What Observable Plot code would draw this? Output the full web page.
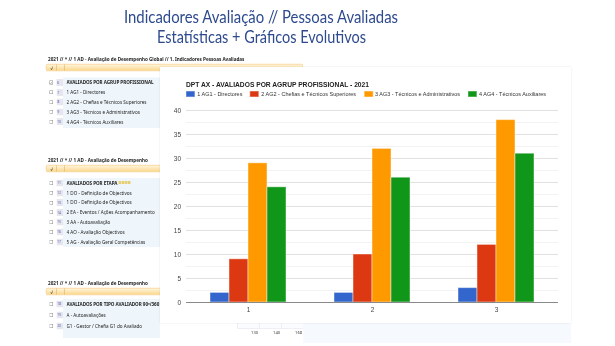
<!DOCTYPE html>
<html><head><meta charset="utf-8">
<script src="https://cdn.jsdelivr.net/npm/d3@7"></script>
<script src="https://cdn.jsdelivr.net/npm/@observablehq/plot@0.6"></script>
<style>
html,body{margin:0;padding:0;background:#fff;}
body{width:615px;height:346px;position:relative;overflow:hidden;font-family:"Liberation Sans",Arial,sans-serif;}
#bg{position:absolute;left:0;top:0;width:1230px;height:692px;transform:scale(0.5);transform-origin:0 0;font-family:"Noto Sans","Liberation Sans",sans-serif;color:#222;}
.ttl{position:absolute;white-space:nowrap;font-family:Lato,"Open Sans",sans-serif;color:#2d4a8e;font-size:17px;line-height:17px;transform-origin:0 0;}
#panel{position:absolute;left:160px;top:67px;width:411px;height:256px;background:#fff;box-shadow:0 0 2px rgba(0,0,0,0.10);}
#ctitle{position:absolute;left:25.7px;top:12.5px;white-space:nowrap;font-weight:bold;font-size:8px;line-height:9px;color:#222;transform-origin:0 0;}
#legend{position:absolute;left:25.7px;top:23.2px;white-space:nowrap;font-size:6.2px;line-height:7px;color:#333;transform-origin:0 0;display:flex;align-items:center;}
#legend .sw{display:inline-block;height:6px;margin-right:2.7px;}
#legend .it{display:inline-flex;align-items:center;}
#chart{position:absolute;left:0;top:33px;}
#bottomfill{position:absolute;left:303px;top:323px;width:268px;height:20px;background:#f6f9fe;}
</style></head>
<body>
<div id="bg"></div>
<div id="bottomfill"></div>
<div class="ttl" id="t1">Indicadores Avaliação // Pessoas Avaliadas</div>
<div class="ttl" id="t2">Estatísticas + Gráficos Evolutivos</div>
<div id="panel">
  <div id="ctitle">DPT AX - AVALIADOS POR AGRUP PROFISSIONAL - 2021</div>
  <div id="legend"></div>
  <div id="chart"></div>
</div>
<script>
// ---- chart data ----
const categories = ["1", "2", "3"];
const series = ["1 AG1 - Directores", "2 AG2 - Chefias e Técnicos Superiores", "3 AG3 - Técnicos e Administrativos", "4 AG4 - Técnicos Auxiliares"];
const ag1 = [2, 2, 3];
const ag2 = [9, 10, 12];
const ag3 = [29, 32, 38];
const ag4 = [24, 26, 31];
const colors = ["#3366cc", "#dc3912", "#ff9900", "#109618"];
const yTicks = [0, 5, 10, 15, 20, 25, 30, 35, 40];
const yMinor = [2.5, 7.5, 12.5, 17.5, 22.5, 27.5, 32.5, 37.5];
const chartTitle = "DPT AX - AVALIADOS POR AGRUP PROFISSIONAL - 2021";

// ---- background (report page) texts ----
const pageTitle = ["Indicadores Avaliação // Pessoas Avaliadas", "Estatísticas + Gráficos Evolutivos"];
const blockHeader = "2021 // * // 1 AD - Avaliação de Desempenho Global // 1. Indicadores Pessoas Avaliadas";
const blockHeaderShort = "2021 // * // 1 AD - Avaliação de Desempenho";
const block1Nums = ["6", "7", "8", "9", "10"];
const block1Rows = ["AVALIADOS POR AGRUP PROFISSIONAL", "1 AG1 - Directores", "2 AG2 - Chefias e Técnicos Superiores", "3 AG3 - Técnicos e Administrativos", "4 AG4 - Técnicos Auxiliares"];
const block2Nums = ["11", "12", "13", "14", "15", "16", "17"];
const block2Rows = ["AVALIADOS POR ETAPA", "1 DO - Definição de Objectivos", "1 DO - Definição de Objectivos", "2 EA - Eventos / Ações Acompanhamento", "3 AA - Autoavaliação", "4 AO - Avaliação Objectivos", "5 AG - Avaliação Geral Competências"];
const block3Nums = ["18", "19", "20"];
const block3Rows = ["AVALIADOS POR TIPO AVALIADOR 90º/360º", "A - Autoavaliações", "G1 - Gestor / Chefia G1 do Avaliado"];
const tableNums = ["130", "140", "168"];

// ---- background drawing (2x scaled container) ----
const bg = document.getElementById("bg");
function box(x, y, w, h, css) {
  const d = document.createElement("div");
  d.style.cssText = `position:absolute;left:${x*2}px;top:${y*2}px;width:${w*2}px;height:${h*2}px;box-sizing:border-box;${css||""}`;
  bg.appendChild(d); return d;
}
function txt(x, yc, s, fs, css, clipRight) {
  const d = document.createElement("div");
  d.textContent = s;
  let clip = clipRight ? `overflow:hidden;width:${(clipRight - x)*2}px;` : "";
  d.style.cssText = `position:absolute;left:${x*2}px;top:${(yc-fs*0.62)*2}px;font-size:${fs*2}px;line-height:${fs*1.24*2}px;white-space:nowrap;${clip}${css||""}`;
  bg.appendChild(d); return d;
}
function block(hy, header, nums, rows, rowY, step, panelBottom) {
  txt(48, hy, header, 4.6, "font-weight:bold;");
  box(46, hy + 5, 257, 7, "background:linear-gradient(#fff4dc,#fbd98e);border:1px solid #f0b446;border-radius:3px;");
  txt(50.5, hy + 8.6, "√", 4.5, "font-weight:bold;color:#333;");
  box(56.5, hy + 5.5, 0.6, 6, "background:#e3a64a;");
  box(64, hy + 5.5, 0.6, 6, "background:#e3a64a;");
  box(63, rowY - 5, 97, panelBottom - rowY + 5, "background:#eef6fc;");
  rows.forEach((r, i) => {
    const y = rowY + i * step;
    box(49.5, y - 1.8, 3.6, 3.6, "border:0.5px solid #8a8a8a;background:#fff;");
    if (i === 0 && nums[0] === "6") txt(50, y, "✓", 3.4, "color:#444;");
    box(56.5, y - 3.5, 6.5, 7, "background:#e6e6ef;");
    txt(57.3, y, nums[i], 3.2, "color:#4a4aa8;");
    txt(66.5, y, r, 4.6, i === 0 ? "font-weight:bold;letter-spacing:-0.1px;" : "", 159.5);
  });
}
block(59, blockHeader, block1Nums, block1Rows, 82.5, 9.8, 128);
block(160, blockHeaderShort, block2Nums, block2Rows, 183, 9.8, 247);
block(283, blockHeaderShort, block3Nums, block3Rows, 304, 11, 338);
// small icons after "AVALIADOS POR ETAPA"
[0,1,2,3].forEach(i => box(118.5 + i * 3.2, 181.2, 2.6, 3, "background:#e6cf72;"));
// bits of a table under the chart
box(237, 320, 68, 8.5, "border:0.5px solid #dfe3ee;background:#fbfcff;");
box(259.5, 320, 0.5, 8.5, "background:#dfe3ee;");
box(281.5, 320, 0.5, 8.5, "background:#dfe3ee;");
tableNums.forEach((n, i) => txt(251 + i * 22, 332.5, n, 4.2, "color:#444;"));

// ---- page title ----
function fitTitle(id, text, centerX, width, top) {
  const el = document.getElementById(id);
  el.textContent = text;
  const w = el.getBoundingClientRect().width;
  const k = width / w;
  el.style.top = top + "px";
  el.style.left = (centerX - width / 2) + "px";
  el.style.transform = `scaleX(${k})`;
}

// ---- legend ----
const legend = document.getElementById("legend");
series.forEach((s, i) => {
  const it = document.createElement("span");
  it.className = "it";
  it.style.marginRight = i < series.length - 1 ? "8.7px" : "0";
  const sw = document.createElement("span");
  sw.className = "sw";
  sw.style.width = "10px";
  sw.style.background = colors[i];
  sw.style.boxShadow = "inset 0 0 0 0.5px rgba(255,255,255,0.5)";
  it.appendChild(sw);
  const tx = document.createElement("span");
  tx.textContent = s;
  it.appendChild(tx);
  legend.appendChild(it);
});

// ---- chart ----
const vals = [ag1, ag2, ag3, ag4];
const rowsData = [];
categories.forEach((c, i) => series.forEach((s, j) => rowsData.push({cat: c, series: s, value: vals[j][i]})));

const chart = Plot.plot({
  width: 411,
  height: 223,
  marginLeft: 25,
  marginRight: 12,
  marginTop: 10,
  marginBottom: 21,
  style: {fontSize: "6.5px", fontFamily: "Liberation Sans, Arial, sans-serif", color: "#444", background: "transparent", overflow: "visible"},
  facet: {data: rowsData, x: "cat"},
  fx: {domain: categories, padding: 0, axis: "bottom", tickSize: 0, tickPadding: 4.5, label: null},
  x: {domain: series, axis: null, paddingInner: 0, paddingOuter: 1.23},
  y: {domain: [0, 40], ticks: yTicks, tickSize: 0, tickPadding: 5.5, label: null},
  color: {domain: series, range: colors},
  marks: [
    Plot.ruleY(yMinor, {stroke: "#f2f2f2"}),
    Plot.ruleY(yTicks.filter(d => d > 0), {stroke: "#e1e1e1"}),
    Plot.barY(rowsData, {x: "series", y: "value", fill: "series", stroke: "#fff", strokeOpacity: 0.45, strokeWidth: 1}),
    Plot.ruleY([0], {stroke: "#8a8a8a"})
  ]
});
document.getElementById("chart").appendChild(chart);

function fitAll() {
  fitTitle("t1", pageTitle[0], 261, 274, 7.6);
  fitTitle("t2", pageTitle[1], 261, 209, 27.6);
  const ct = document.getElementById("ctitle");
  ct.style.transform = `scaleX(${183 / ct.getBoundingClientRect().width})`;
  const lw = legend.getBoundingClientRect().width;
  legend.style.transform = `scaleX(${360 / lw})`;
}
fitAll();
if (document.fonts && document.fonts.ready) document.fonts.ready.then(() => {
  ["t1","t2","ctitle"].forEach(id => document.getElementById(id).style.transform = "");
  legend.style.transform = "";
  fitAll();
});
</script>
</body></html>
